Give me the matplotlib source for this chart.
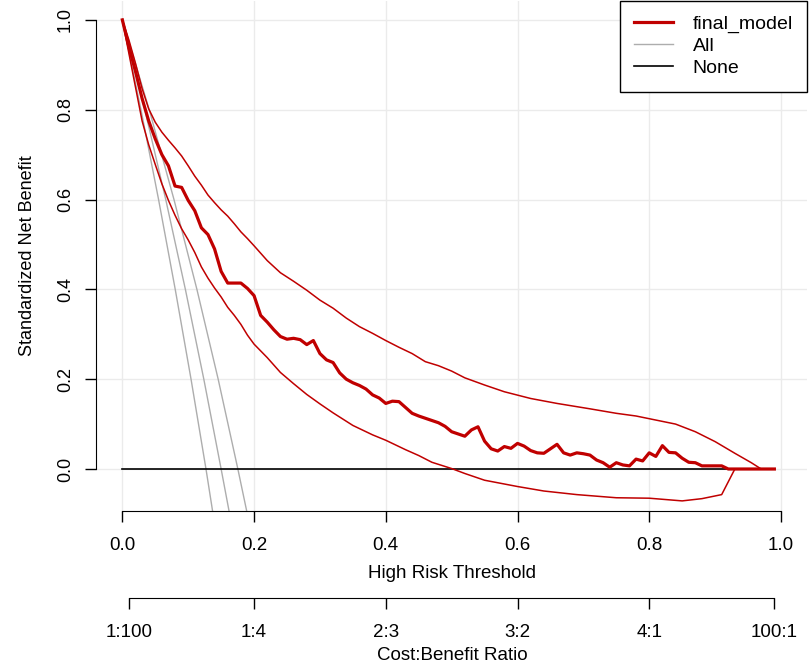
import numpy as np
import matplotlib
matplotlib.use("Agg")
import matplotlib.pyplot as plt

plt.rcParams['font.family'] = ['Liberation Sans', 'DejaVu Sans']

# thresholds 0.00 .. 0.99 for the model curve
thresholds = np.round(np.arange(0, 1.0, 0.01), 2)
model_nb = [
    1.000, 0.940, 0.885, 0.825, 0.775, 0.735, 0.700, 0.675, 0.630, 0.627,
    0.598, 0.575, 0.537, 0.522, 0.490, 0.440, 0.414, 0.414, 0.414, 0.402,
    0.386, 0.342, 0.327, 0.310, 0.295, 0.289, 0.291, 0.288, 0.277, 0.286,
    0.257, 0.243, 0.237, 0.214, 0.200, 0.192, 0.186, 0.178, 0.165, 0.158,
    0.146, 0.151, 0.150, 0.137, 0.124, 0.118, 0.113, 0.108, 0.103, 0.095,
    0.083, 0.078, 0.073, 0.087, 0.094, 0.062, 0.045, 0.040, 0.050, 0.046,
    0.057, 0.051, 0.041, 0.036, 0.035, 0.045, 0.055, 0.036, 0.031, 0.036,
    0.034, 0.031, 0.020, 0.014, 0.004, 0.014, 0.009, 0.007, 0.022, 0.018,
    0.036, 0.028, 0.052, 0.037, 0.036, 0.024, 0.015, 0.014, 0.007, 0.007,
    0.007, 0.007, 0.000, 0.000, 0.000, 0.000, 0.000, 0.000, 0.000, 0.000,
]

# confidence bands (upper / lower)
upper_t = [0, 0.01, 0.02, 0.03, 0.04, 0.05, 0.06, 0.07, 0.08, 0.09, 0.10, 0.11, 0.12,
           0.13, 0.14, 0.15, 0.16, 0.17, 0.18, 0.19, 0.20, 0.22, 0.24, 0.26, 0.28,
           0.30, 0.32, 0.34, 0.36, 0.38, 0.40, 0.42, 0.44, 0.46, 0.48, 0.50, 0.52,
           0.55, 0.58, 0.62, 0.66, 0.71, 0.75, 0.78, 0.80, 0.84, 0.87, 0.90, 0.93,
           0.955, 0.97, 0.99]
upper_nb = [1.0, 0.955, 0.903, 0.847, 0.802, 0.772, 0.750, 0.732, 0.715, 0.697, 0.675,
            0.652, 0.632, 0.610, 0.593, 0.577, 0.563, 0.546, 0.528, 0.513, 0.497,
            0.464, 0.437, 0.418, 0.398, 0.376, 0.358, 0.336, 0.317, 0.302, 0.286,
            0.271, 0.257, 0.239, 0.230, 0.218, 0.203, 0.187, 0.172, 0.157, 0.146,
            0.134, 0.124, 0.118, 0.112, 0.100, 0.083, 0.061, 0.035, 0.014, 0.0, 0.0]

lower_t = [0, 0.01, 0.02, 0.03, 0.04, 0.05, 0.06, 0.07, 0.08, 0.09, 0.10, 0.11, 0.12,
           0.13, 0.14, 0.15, 0.16, 0.17, 0.18, 0.19, 0.20, 0.22, 0.24, 0.26, 0.28,
           0.30, 0.32, 0.35, 0.38, 0.40, 0.43, 0.45, 0.47, 0.50, 0.52, 0.55, 0.60,
           0.64, 0.69, 0.75, 0.80, 0.85, 0.88, 0.90, 0.91, 0.93, 0.99]
lower_nb = [1.0, 0.925, 0.850, 0.775, 0.722, 0.678, 0.635, 0.598, 0.565, 0.535, 0.510,
            0.482, 0.450, 0.425, 0.403, 0.383, 0.360, 0.342, 0.322, 0.298, 0.278,
            0.248, 0.215, 0.190, 0.166, 0.145, 0.125, 0.097, 0.076, 0.064, 0.043,
            0.030, 0.015, 0.001, -0.010, -0.025, -0.039, -0.049, -0.057, -0.064,
            -0.065, -0.071, -0.066, -0.060, -0.057, 0.0, 0.0]

# "All" (treat everyone) with its CI: thresholds where each line reaches all_nb
all_nb = [1.0, 0.8, 0.6, 0.4, 0.2, 0.0, -0.0935]
all_lo_t = [0, 0.0283, 0.0550, 0.0803, 0.1043, 0.127, 0.137]
all_mid_t = [0, 0.0341, 0.0659, 0.0957, 0.1237, 0.150, 0.162]
all_hi_t = [0, 0.0408, 0.0784, 0.1132, 0.1455, 0.1754, 0.1888]

tick_vals = [0.0, 0.2, 0.4, 0.6, 0.8, 1.0]
tick_labels = ["0.0", "0.2", "0.4", "0.6", "0.8", "1.0"]
cb_vals = [0.01, 0.2, 0.4, 0.6, 0.8, 0.99]
cb_labels = ["1:100", "1:4", "2:3", "3:2", "4:1", "100:1"]

RED = "#C00000"
W, H = 809, 665

fig = plt.figure(figsize=(W / 100, H / 100), dpi=100)
ax = fig.add_axes([96 / W, (H - 511) / H, 711.3 / W, 510 / H])
ax.set_xlim(-0.04, 1.04)
ax.set_ylim(-0.0935, 1.042)

ax.grid(color="#EBEBEB", lw=1)
ax.set_axisbelow(True)

for s in ("top", "right"):
    ax.spines[s].set_visible(False)
ax.spines["left"].set_bounds(0, 1)
ax.spines["bottom"].set_bounds(0, 1)
ax.set_xticks(tick_vals, tick_labels)
ax.set_yticks(tick_vals, tick_labels)
ax.tick_params(axis="x", length=8, width=1, pad=11, labelsize=13.5)
ax.tick_params(axis="y", length=8, width=1, pad=8, labelsize=13, labelrotation=90)
for lab in ax.get_yticklabels():
    lab.set_va("center")

gray = "#ADADAD"
ax.plot(all_lo_t, all_nb, color=gray, lw=1)
ax.plot(all_mid_t, all_nb, color=gray, lw=1, label="All")
ax.plot(all_hi_t, all_nb, color=gray, lw=1)
ax.plot(thresholds, np.zeros(len(thresholds)), color="black", lw=1.2, label="None")

ax.plot(upper_t, upper_nb, color=RED, lw=1.1)
ax.plot(lower_t, lower_nb, color=RED, lw=1.1)
ax.plot(thresholds, model_nb, color=RED, lw=2.3, label="final_model")

h, l = ax.get_legend_handles_labels()
order = [2, 0, 1]
leg = ax.legend([h[i] for i in order], [l[i] for i in order],
                loc="upper right", bbox_to_anchor=(1, 1), borderaxespad=0,
                fontsize=14, fancybox=False, framealpha=1, edgecolor="black",
                handlelength=2.0, handletextpad=1.0, labelspacing=0.22,
                borderpad=0.75)
leg.get_frame().set_linewidth(1)

# cost:benefit axis
ax2 = fig.add_axes([96 / W, (H - 598) / H, 711.3 / W, 0.001])
ax2.set_xlim(-0.04, 1.04)
ax2.patch.set_visible(False)
for s in ("top", "right", "left"):
    ax2.spines[s].set_visible(False)
ax2.spines["bottom"].set_bounds(0.01, 0.99)
ax2.set_yticks([])
ax2.set_xticks(cb_vals, cb_labels)
ax2.tick_params(axis="x", length=8, width=1, pad=11, labelsize=13.5)

fig.text(452 / W, 1 - 574 / H, "High Risk Threshold", ha="center", va="center", fontsize=13.5)
fig.text(452 / W, 1 - 655 / H, "Cost:Benefit Ratio", ha="center", va="center", fontsize=13.5)
fig.text(28 / W, 1 - 256 / H, "Standardized Net Benefit", ha="center", va="center",
         rotation=90, fontsize=13)

fig.savefig("out.png", dpi=100)
